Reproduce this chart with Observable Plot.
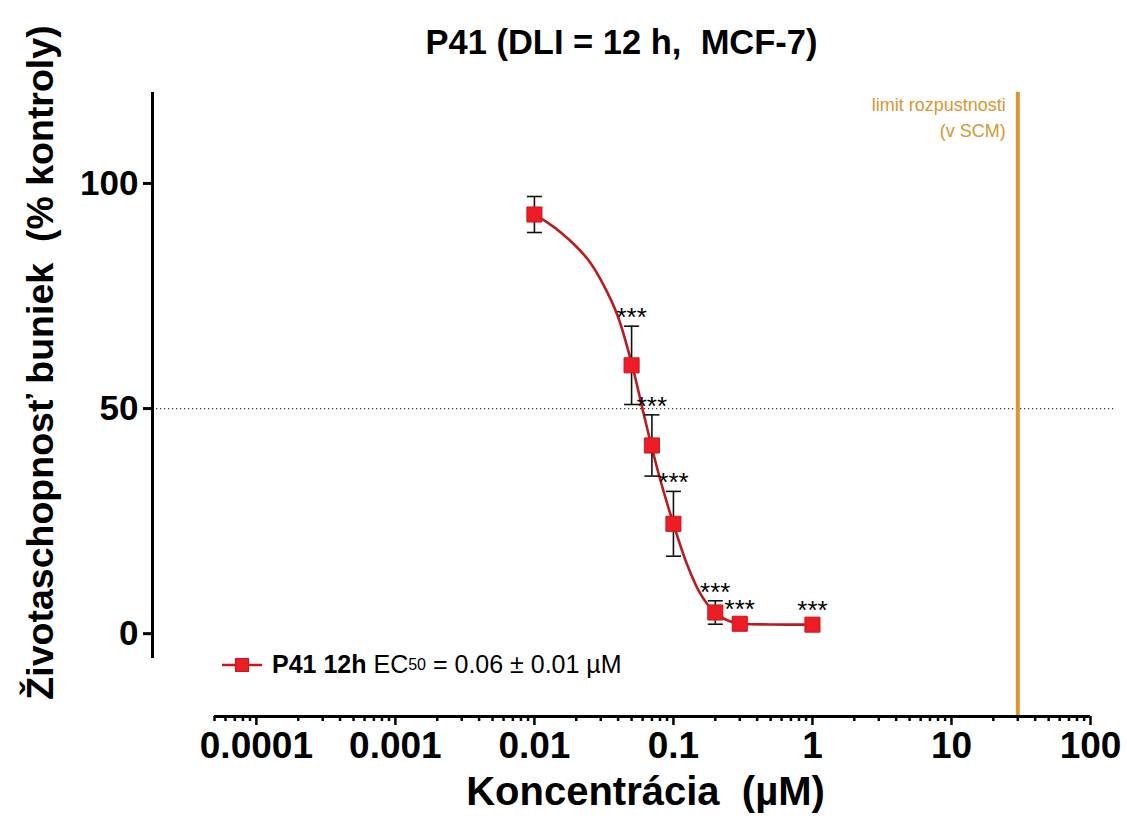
<!DOCTYPE html>
<html>
<head>
<meta charset="utf-8">
<script src="https://cdn.jsdelivr.net/npm/d3@7"></script>
<script src="https://cdn.jsdelivr.net/npm/@observablehq/plot@0.6"></script>
<style>
  html, body { margin: 0; padding: 0; background: #fff; }
  #wrap { position: relative; width: 1127px; height: 829px; font-family: "Liberation Sans", Arial, sans-serif; }
  #legend { position: absolute; left: 220px; top: 650px; font-size: 25px; color: #000; display: flex; align-items: center; white-space: pre; }
  #legend sub { font-size: 16px; vertical-align: -5px; }
</style>
</head>
<body>
<div id="wrap"></div>
<script>
// ---- data ----
const concentrations = [0.01, 0.05, 0.07, 0.1, 0.2, 0.3, 1];
const viability      = [93.1, 59.6, 41.8, 24.4, 4.7, 2.2, 2.0];
const sdValues       = [4.0, 8.7, 6.8, 7.2, 2.6, 1.2, 1.2];
const significance   = ["", "***", "***", "***", "***", "***", "***"];

// fitted curve
const fitX = [0.01, 0.0126, 0.0158, 0.02, 0.0251, 0.0316, 0.0398, 0.0501, 0.0631, 0.0794, 0.1, 0.126, 0.158, 0.2, 0.251, 0.316, 0.5, 1];
const fitY = [93.0, 91.2, 88.9, 86.0, 82.5, 77.3, 70.5, 60.0, 47.0, 34.8, 24.4, 15.2, 8.6, 4.6, 2.8, 2.2, 2.05, 2.0];

const xTickValues = [1e-4, 1e-3, 1e-2, 0.1, 1, 10, 100];
const xTickLabels = ["0.0001", "0.001", "0.01", "0.1", "1", "10", "100"];
const yTickValues = [0, 50, 100];
const solubilityLimit = 30;
const solubilityText = "limit rozpustnosti\n(v SCM)";
const titleText = "P41 (DLI = 12 h,  MCF-7)";
const xLabel = "Koncentrácia  (µM)";
const yLabel = "Životaschopnosť buniek  (% kontroly)";

// ---- axis geometry ----
const xDomain = [1.79e-5, 100];
const xAxisStart = 5e-5;
const yDomain = [-18.4, 120.2];
const yAxisBottom = -5.5;

const minorTicks = [];
for (let e = -5; e <= 1; e++) for (let m = 2; m <= 9; m++) {
  const v = m * Math.pow(10, e);
  if (v >= xAxisStart && v <= 100) minorTicks.push(v);
}
const xLabelMap = new Map(xTickValues.map((v, i) => [v, xTickLabels[i]]));

const points = concentrations.map((c, i) => ({
  x: c, y: viability[i], lo: viability[i] - sdValues[i], hi: viability[i] + sdValues[i], star: significance[i]
}));
const fit = fitX.map((x, i) => ({x, y: fitY[i]}));

const capSymbol = { draw(ctx, size) { const w = Math.sqrt(size); ctx.moveTo(-w / 2, 0); ctx.lineTo(w / 2, 0); } };

const orange = "#da962f";
const font = "'Liberation Sans', Arial, sans-serif";

const chart = Plot.plot({
  width: 1127,
  height: 829,
  marginLeft: 152,
  marginRight: 37,
  marginTop: 92,
  marginBottom: 113,
  style: { fontFamily: font, background: "#fff", color: "#000", overflow: "visible" },
  x: { type: "log", domain: xDomain },
  y: { domain: yDomain },
  marks: [
    // dotted 50% line
    Plot.ruleY([50], { x1: xDomain[0], x2: 150, stroke: "#333", strokeWidth: 1.2, strokeDasharray: "1.2,2.8" }),
    // solubility limit
    Plot.ruleX([solubilityLimit], { stroke: orange, strokeWidth: 4 }),
    Plot.text([solubilityText], { x: solubilityLimit, frameAnchor: "top", textAnchor: "end", lineAnchor: "top", dx: -12, dy: 0, fill: orange, fontSize: 18, lineHeight: 1.45 }),
    // y axis line
    Plot.ruleX([xDomain[0]], { y1: yAxisBottom, y2: yDomain[1], strokeWidth: 3 }),
    // x axis line
    Plot.ruleY([yDomain[0]], { x1: xAxisStart, x2: 100, strokeWidth: 3 }),
    Plot.axisY({ ticks: yTickValues, tickSize: 9, tickPadding: 5, fontSize: 35, fontWeight: "bold", strokeWidth: 3, label: null, tickFormat: d => String(d) }),
    Plot.axisX({ ticks: minorTicks, tickSize: 5, strokeWidth: 2.5, tickFormat: () => "", label: null }),
    Plot.axisX({ ticks: xTickValues, tickSize: 9, tickPadding: 6, fontSize: 37, fontWeight: "bold", strokeWidth: 2.5, label: null, tickFormat: d => xLabelMap.get(d) ?? String(d) }),
    // fitted curve
    Plot.line(fit, { x: "x", y: "y", curve: "catmull-rom", stroke: "#b81c1f", strokeWidth: 2.6 }),
    // error bars
    Plot.ruleX(points, { x: "x", y1: "lo", y2: "hi", stroke: "#111", strokeWidth: 1.6 }),
    Plot.dot(points, { x: "x", y: "hi", symbol: capSymbol, r: 8.5, stroke: "#111", strokeWidth: 1.6 }),
    Plot.dot(points, { x: "x", y: "lo", symbol: capSymbol, r: 8.5, stroke: "#111", strokeWidth: 1.6 }),
    // markers
    Plot.dot(points, { x: "x", y: "y", symbol: "square", r: 8.5, fill: "#ee1c24", stroke: "#c8181d", strokeWidth: 1 }),
    // significance stars
    Plot.text(points.filter(d => d.star), { x: "x", y: "hi", text: "star", lineAnchor: "bottom", dy: 0, fontSize: 26, fill: "#000" }),
    // title & axis labels
    Plot.text([titleText], { frameAnchor: "top", dy: -63, fontSize: 34.5, fontWeight: "bold", fill: "#000" }),
    Plot.text([xLabel], { frameAnchor: "bottom", dx: 24, dy: 88, fontSize: 40, fontWeight: "bold", fill: "#000" }),
    Plot.text([yLabel], { frameAnchor: "left", textAnchor: "middle", rotate: -90, dx: -112, dy: -42, fontSize: 37.5, fontWeight: "bold", fill: "#000" })
  ]
});

const wrap = document.getElementById("wrap");
wrap.appendChild(chart);

const legend = document.createElement("div");
legend.id = "legend";
legend.innerHTML = `<svg width="44" height="26" style="margin-right:8px"><line x1="2" x2="42" y1="13" y2="13" stroke="#c8181d" stroke-width="2.6"/><rect x="15.5" y="6.5" width="13" height="13" fill="#ee1c24" stroke="#c8181d" stroke-width="1"/></svg><b>P41 12h</b> EC<sub>50</sub> = 0.06 ± 0.01 µM`;
wrap.appendChild(legend);
</script>
</body>
</html>
